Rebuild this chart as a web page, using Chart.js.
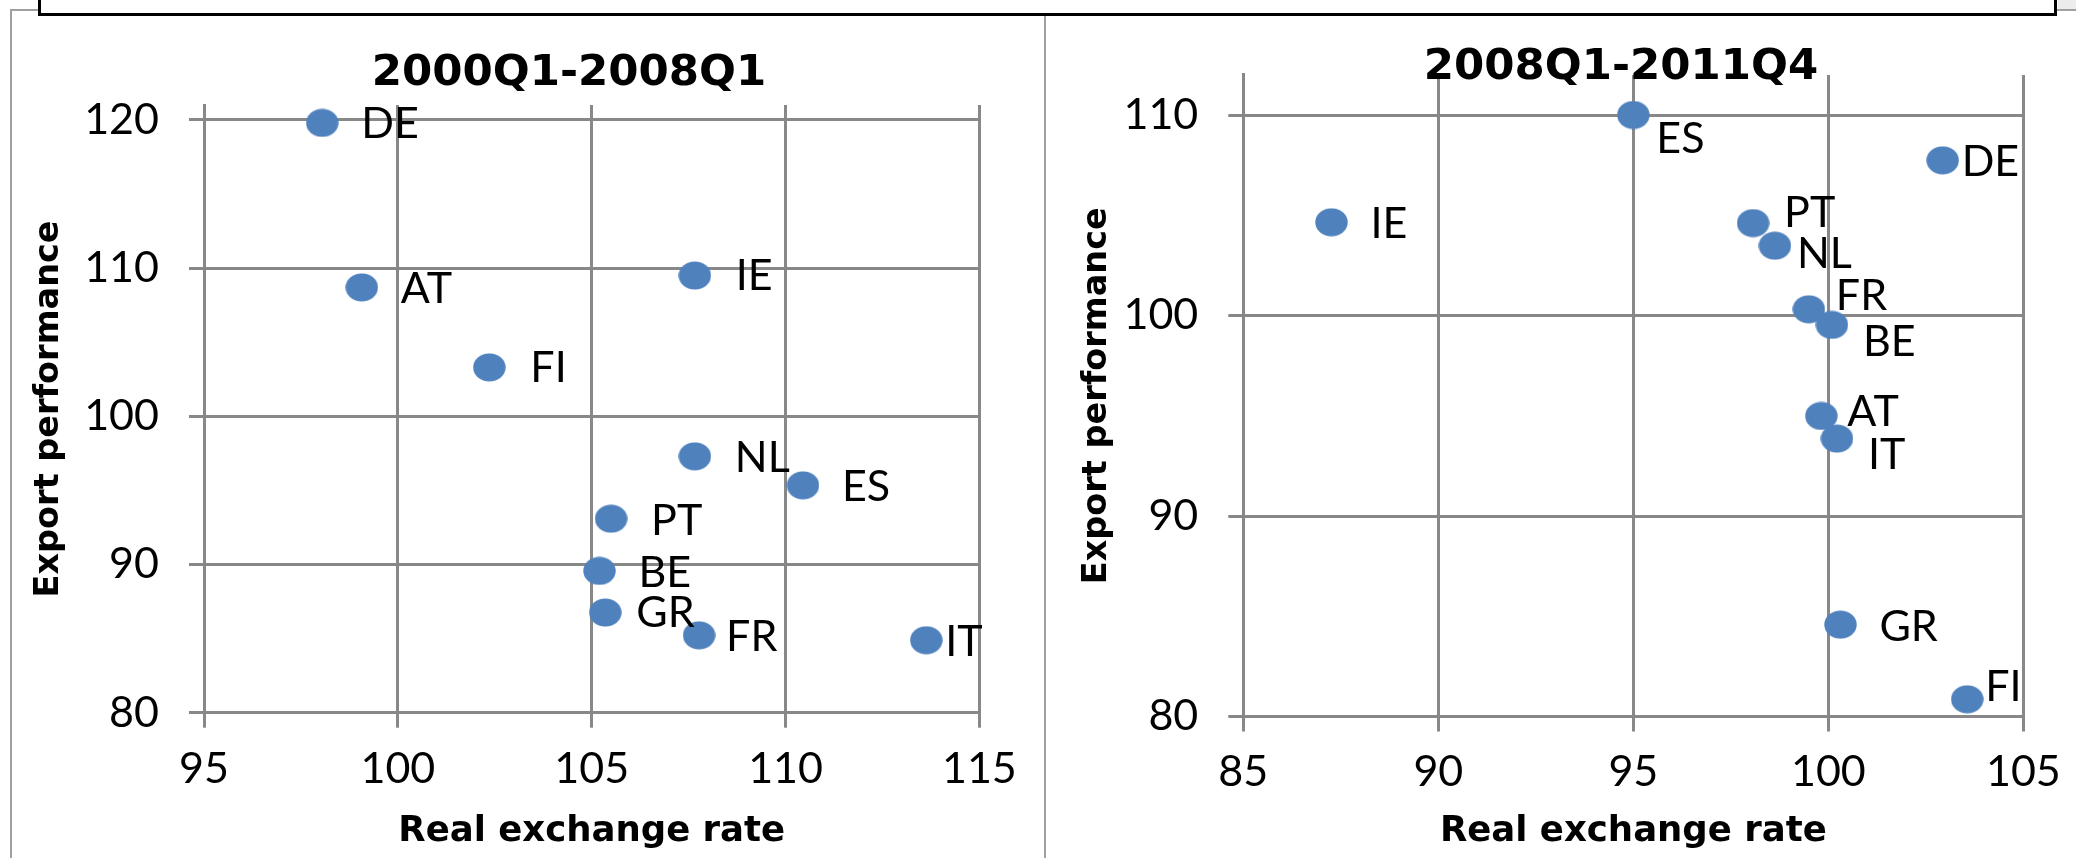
<!DOCTYPE html>
<html>
<head>
<meta charset="utf-8">
<title>Export performance vs real exchange rate</title>
<script src="https://cdn.jsdelivr.net/npm/chart.js@4.4.1/dist/chart.umd.min.js"></script>
<style>
    html, body { margin: 0; padding: 0; background: #fff; }
    body { width: 2076px; height: 858px; position: relative; overflow: hidden; }
    canvas { position: absolute; top: 0; }
    #chart-left  { left: 0; }
    #chart-right { left: 1046px; }
    .frame { position: absolute; background: #a0a0a0; }
    #topbox { position: absolute; left: 38px; top: -6px; width: 2013px; height: 16px; border: 3px solid #000; background: #fff; }
</style>
</head>
<body>
<div class="frame" style="left:10px; top:9px; width:2px; height:849px;"></div>
<div class="frame" style="left:10px; top:9px; width:30px; height:2px;"></div>
<div style="position:absolute; left:2058px; top:0; width:18px; height:9px; background:#ececec;"></div>
<div class="frame" style="left:2056px; top:9px; width:20px; height:2px;"></div>
<div class="frame" style="left:1044px; top:16px; width:2px; height:842px;"></div>
<div id="topbox"></div>
<canvas id="chart-left" width="1044" height="858"></canvas>
<canvas id="chart-right" width="1030" height="858"></canvas>
<script>
// country codes, same order in both panels
const countries = ['DE', 'AT', 'IE', 'FI', 'NL', 'ES', 'PT', 'BE', 'GR', 'FR', 'IT'];

// 2000Q1-2008Q1
const rerEarly    = [98.05, 99.07, 107.66, 102.36, 107.66, 110.45, 105.5, 105.2, 105.35, 107.77, 113.63];
const exportEarly = [119.8, 108.7, 109.5, 103.3, 97.3, 95.34, 93.09, 89.57, 86.76, 85.22, 84.89];

// 2008Q1-2011Q4
const rerLate    = [102.93, 99.82, 87.26, 103.56, 98.63, 95.0, 98.07, 100.09, 100.31, 99.5, 100.22];
const exportLate = [107.74, 94.99, 104.65, 80.86, 103.48, 110.0, 104.61, 99.53, 84.58, 100.31, 93.86];

const xTicksEarly = [95, 100, 105, 110, 115];
const yTicksEarly = [80, 90, 100, 110, 120];
const xTicksLate  = [85, 90, 95, 100, 105];
const yTicksLate  = [80, 90, 100, 110];

// data label nudges (px from marker centre), placed by hand in the original
const labelNudgeEarly = {
    DE: [42, 1], AT: [42, 2], IE: [44, 1], FI: [44, 1], NL: [43, 2], ES: [42, 2],
    PT: [43, 2], BE: [42, 2], GR: [34, 1], FR: [30, 2], IT: [22, 2]
};
const labelNudgeLate = {
    DE: [22, 2], AT: [29, -4], IE: [42, 2], FI: [21, -12], NL: [25, 8], ES: [26, 24],
    PT: [34, -10], BE: [34, 17], GR: [42, 2], FR: [30, -13], IT: [34, 17]
};

const GRID = '#888888';
const FONT = 'Lato, "Open Sans", sans-serif';
const BOLD = '"DejaVu Sans", Verdana, sans-serif';
Chart.defaults.font.family = FONT;
Chart.defaults.color = '#000';

let leftChart  = null;
let rightChart = null;

function makeMarker() {
    const c = document.createElement('canvas');
    c.width = 33; c.height = 29;
    const g = c.getContext('2d');
    g.fillStyle = '#4F81BD';
    g.beginPath();
    g.ellipse(16.5, 14.5, 16.2, 14.1, 0, 0, Math.PI * 2);
    g.fill();
    return c;
}

// country codes next to the markers
const pointLabels = {
    id: 'pointLabels',
    afterDatasetsDraw(chart, args, opts) {
        const ctx = chart.ctx;
        const meta = chart.getDatasetMeta(0);
        ctx.save();
        ctx.font = '43px ' + FONT;
        ctx.fillStyle = '#000';
        ctx.textAlign = 'left';
        ctx.textBaseline = 'middle';
        meta.data.forEach(function (pt, i) {
            const name = countries[i];
            const n = opts.nudge[name] || [40, 0];
            ctx.fillText(name, pt.x + n[0] - 3, pt.y + n[1]);
        });
        ctx.restore();
    }
};

// the titles in the original sit off the plot centre
const titleCentre = {
    id: 'titleCentre',
    afterLayout(chart, args, opts) {
        const t = chart.titleBlock;
        if (!t || opts.x == null) return;
        const half = (t.right - t.left) / 2;
        t.left = opts.x - half;
        t.right = opts.x + half;
    }
};

function buildPanel(canvas, cfg) {
    const pts = cfg.xs.map(function (x, i) { return { x: x, y: cfg.ys[i] }; });

    return new Chart(canvas, {
        type: 'scatter',
        data: {
            datasets: [{
                data: pts,
                pointStyle: makeMarker(),
                pointRadius: 15,
                pointBackgroundColor: '#4F81BD',
                borderWidth: 0
            }]
        },
        plugins: [pointLabels, titleCentre],
        options: {
            responsive: false,
            animation: false,
            events: [],
            layout: { padding: { left: 0, right: cfg.padRight, top: 0, bottom: 0 } },
            plugins: {
                legend: { display: false },
                tooltip: { enabled: false },
                title: {
                    display: true,
                    text: cfg.title,
                    color: '#000',
                    font: { family: BOLD, size: 43.5, weight: 'bold', lineHeight: 0.3 },
                    padding: { top: cfg.titleTop, bottom: cfg.titleBottom }
                },
                titleCentre: { x: cfg.titleX },
                pointLabels: { nudge: cfg.nudge }
            },
            scales: {
                x: {
                    type: 'linear',
                    min: cfg.xTicks[0],
                    max: cfg.xTicks[cfg.xTicks.length - 1],
                    afterBuildTicks: function (s) { s.ticks = cfg.xTicks.map(function (v) { return { value: v }; }); },
                    afterFit: function (s) { s.height = cfg.xHeight; },
                    grid: { color: GRID, lineWidth: 3, tickLength: 15 },
                    border: { color: GRID, width: 3 },
                    ticks: { font: { size: 43 }, padding: 15.2, color: '#000' },
                    title: {
                        display: true,
                        text: 'Real exchange rate',
                        color: '#000',
                        font: { family: BOLD, size: 35.5, weight: 'bold' },
                        padding: { top: 0, bottom: 5.3 }
                    }
                },
                y: {
                    type: 'linear',
                    min: cfg.yMin,
                    max: cfg.yMax,
                    afterBuildTicks: function (s) { s.ticks = cfg.yTicks.map(function (v) { return { value: v }; }); },
                    afterFit: function (s) { s.width = cfg.yWidth; },
                    grid: { color: GRID, lineWidth: 3, tickLength: 15 },
                    border: { color: GRID, width: 3 },
                    ticks: { font: { size: 43 }, padding: 30, color: '#000' },
                    title: {
                        display: true,
                        text: 'Export performance',
                        color: '#000',
                        font: { family: BOLD, size: 33.5, weight: 'bold' },
                        padding: { top: cfg.yTitlePad, bottom: 0 }
                    }
                }
            }
        }
    });
}

function renderCharts() {
    if (leftChart)  { leftChart.destroy();  leftChart = null; }
    if (rightChart) { rightChart.destroy(); rightChart = null; }

    leftChart = buildPanel(document.getElementById('chart-left'), {
        title: '2000Q1-2008Q1',
        xs: rerEarly, ys: exportEarly,
        xTicks: xTicksEarly, yTicks: yTicksEarly,
        yMin: 80, yMax: 121,
        nudge: labelNudgeEarly,
        padRight: 64.6, yWidth: 204, xHeight: 145.3,
        titleTop: 67.3, titleBottom: 24.75, titleX: 569, yTitlePad: 29.4
    });

    rightChart = buildPanel(document.getElementById('chart-right'), {
        title: '2008Q1-2011Q4',
        xs: rerLate, ys: exportLate,
        xTicks: xTicksLate, yTicks: yTicksLate,
        yMin: 80, yMax: 112,
        nudge: labelNudgeLate,
        padRight: 50, yWidth: 197.3, xHeight: 141.5,
        titleTop: 60.7, titleBottom: 1.15, titleX: 575, yTitlePad: 30.9
    });
}

document.addEventListener('DOMContentLoaded', renderCharts);
</script>
</body>
</html>
